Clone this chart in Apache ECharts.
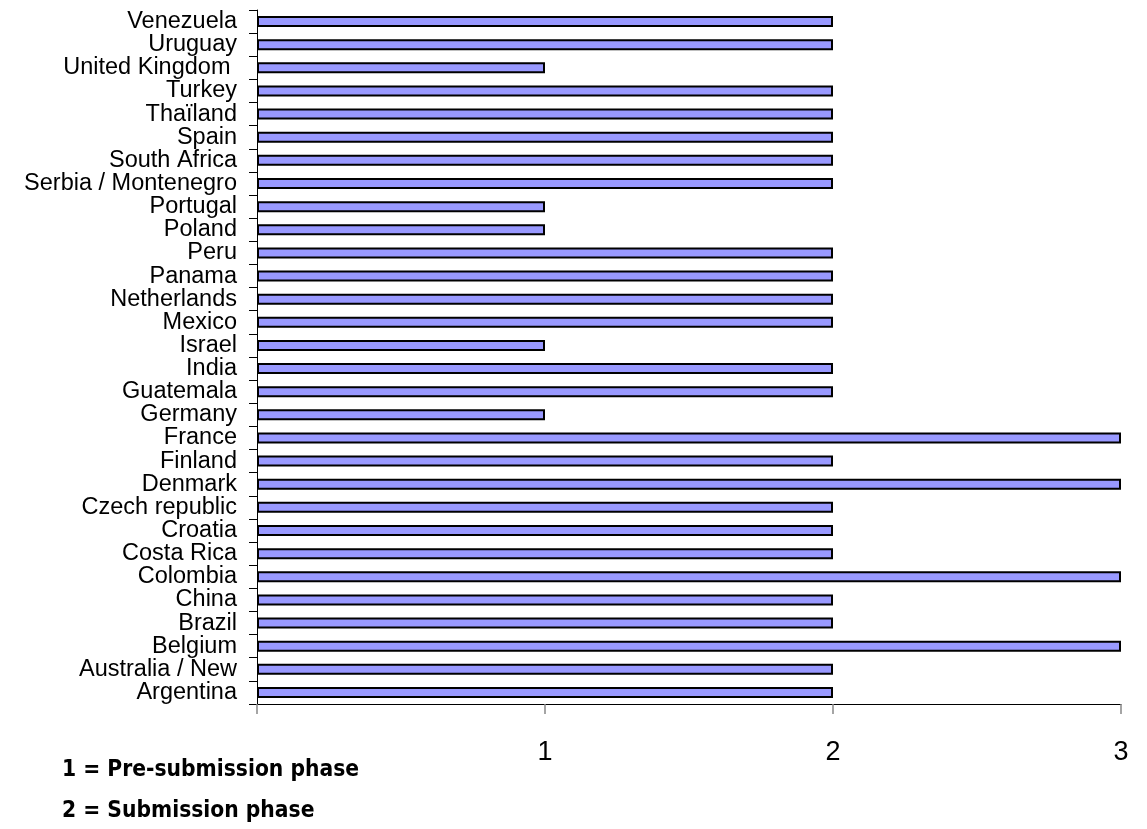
<!DOCTYPE html>
<html><head><meta charset="utf-8">
<script src="https://cdn.jsdelivr.net/npm/echarts@6/dist/echarts.min.js"></script>
<style>html,body{margin:0;padding:0;background:#fff}#c{width:1147px;height:829px}</style>
</head><body><div id="c"></div>
<script>
const categories = ["Argentina","Australia / New","Belgium","Brazil","China","Colombia","Costa Rica","Croatia","Czech republic","Denmark","Finland","France","Germany","Guatemala","India","Israel","Mexico","Netherlands","Panama","Peru","Poland","Portugal","Serbia / Montenegro","South Africa","Spain","Thaïland","Turkey","United Kingdom ","Uruguay","Venezuela"];
const phaseValues = [2,2,3,2,2,3,2,2,2,3,2,3,1,2,2,1,2,2,2,2,1,1,2,2,2,2,2,1,2,2];
const xTicks = [0,1,2,3];
const legendLines = ["1 = Pre-submission phase","2 = Submission phase"];

const chart = echarts.init(document.getElementById('c'));
chart.setOption({
  animation:false,
  grid:{left:257,right:26,top:10,bottom:125,containLabel:false},
  xAxis:{type:'value',min:xTicks[0],max:xTicks[xTicks.length-1],interval:1,
    splitLine:{show:false},
    axisLine:{show:true,lineStyle:{color:'#000',width:1}},
    axisTick:{show:true,length:10,lineStyle:{color:'#888',width:1.5}},
    axisLabel:{margin:35,fontSize:27,color:'#000',fontFamily:'Liberation Sans, Arial, sans-serif',
      formatter:v=>v===0?'':String(v)}},
  yAxis:{type:'category',data:categories,
    axisLine:{show:true,lineStyle:{color:'#000',width:1}},
    axisTick:{show:true,interval:0,length:8,lineStyle:{color:'#000',width:1}},
    axisLabel:{interval:0,hideOverlap:false,margin:20,fontSize:23.5,color:'#000',fontFamily:'Liberation Sans, Arial, sans-serif',lineHeight:22,padding:[0,0,4,0]}},
  series:[{type:'bar',data:phaseValues,barWidth:11,
    itemStyle:{color:'#9999FF',borderColor:'#000',borderWidth:2}}],
  graphic:[
    {type:'text',left:62,top:759,style:{text:legendLines[0],fontSize:22.6,fontWeight:'bold',fill:'#000',fontFamily:'DejaVu Sans Condensed, DejaVu Sans, sans-serif'}},
    {type:'text',left:62,top:800,style:{text:legendLines[1],fontSize:22.6,fontWeight:'bold',fill:'#000',fontFamily:'DejaVu Sans Condensed, DejaVu Sans, sans-serif'}}
  ]
});
</script></body></html>
